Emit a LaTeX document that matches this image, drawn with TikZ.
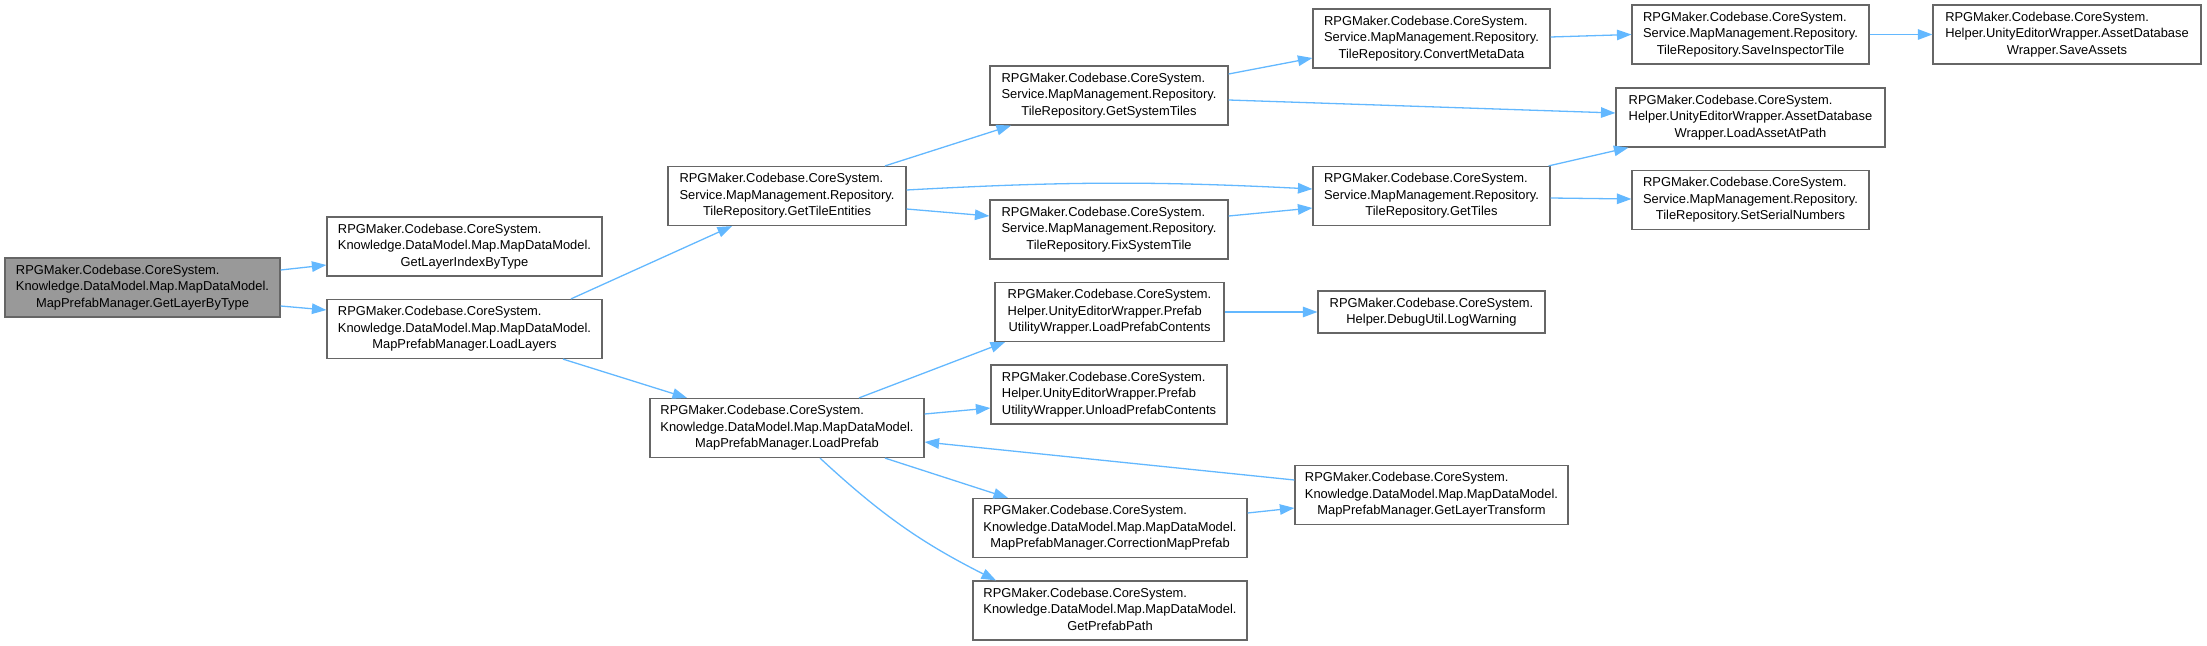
\documentclass[tikz,border=0pt]{standalone}
\usepackage{fontspec}
\setmainfont{Liberation Sans}
\usetikzlibrary{arrows.meta}

\definecolor{edgeblue}{HTML}{63B8FF}
\definecolor{boxline}{HTML}{666666}
\definecolor{rootfill}{HTML}{999999}

\tikzset{
  fn/.style={draw=boxline, fill=white, line width=1.2pt, inner sep=0pt,
    minimum height=59pt, font=\fontsize{12.9}{16.3}\selectfont},
  fntwo/.style={fn, minimum height=42pt},
  fnroot/.style={fn, fill=rootfill},
  call/.style={->, draw=edgeblue, line width=1.3pt}
}

% first lines flush left, last line centred
\newcommand{\fnlbl}[2]{\begin{tabular}{@{}l@{}}#1\\\multicolumn{1}{@{}c@{}}{#2}\end{tabular}}
\newcommand{\rpg}{RPGMaker.Codebase.CoreSystem.}

\begin{document}
\begin{tikzpicture}[x=1pt,y=-1pt,>={Triangle[length=14.5pt,width=10.5pt]}]
    \useasboundingbox (0,0) rectangle (2207,645);

    \node[fnroot,minimum width=275pt] (root) at (142.5,287.5)
        {\fnlbl{\rpg\\Knowledge.DataModel.Map.MapDataModel.}{MapPrefabManager.GetLayerByType}};
    \node[fn,minimum width=275pt] (idx) at (464.5,246.5)
        {\fnlbl{\rpg\\Knowledge.DataModel.Map.MapDataModel.}{GetLayerIndexByType}};
    \node[fn,minimum width=275pt] (layers) at (464.5,329)
        {\fnlbl{\rpg\\Knowledge.DataModel.Map.MapDataModel.}{MapPrefabManager.LoadLayers}};

    \node[fn,minimum width=238pt] (entities) at (787,196)
        {\fnlbl{\rpg\\Service.MapManagement.Repository.}{TileRepository.GetTileEntities}};
    \node[fn,minimum width=274pt] (prefab) at (787,428)
        {\fnlbl{\rpg\\Knowledge.DataModel.Map.MapDataModel.}{MapPrefabManager.LoadPrefab}};

    \node[fn,minimum width=238pt] (systiles) at (1109,95.5)
        {\fnlbl{\rpg\\Service.MapManagement.Repository.}{TileRepository.GetSystemTiles}};
    \node[fn,minimum width=238pt] (fixtile) at (1109,229.5)
        {\fnlbl{\rpg\\Service.MapManagement.Repository.}{TileRepository.FixSystemTile}};
    \node[fn,minimum width=229pt] (loadcont) at (1109.5,312)
        {\fnlbl{\rpg\\Helper.UnityEditorWrapper.Prefab}{UtilityWrapper.LoadPrefabContents}};
    \node[fn,minimum width=236pt] (unloadcont) at (1109,394.5)
        {\fnlbl{\rpg\\Helper.UnityEditorWrapper.Prefab}{UtilityWrapper.UnloadPrefabContents}};
    \node[fn,minimum width=274pt] (correct) at (1110,528)
        {\fnlbl{\rpg\\Knowledge.DataModel.Map.MapDataModel.}{MapPrefabManager.CorrectionMapPrefab}};
    \node[fn,minimum width=274pt] (path) at (1110,610.5)
        {\fnlbl{\rpg\\Knowledge.DataModel.Map.MapDataModel.}{GetPrefabPath}};

    \node[fn,minimum width=237pt] (convmeta) at (1431.5,38.5)
        {\fnlbl{\rpg\\Service.MapManagement.Repository.}{TileRepository.ConvertMetaData}};
    \node[fn,minimum width=237pt] (gettiles) at (1431.5,196)
        {\fnlbl{\rpg\\Service.MapManagement.Repository.}{TileRepository.GetTiles}};
    \node[fntwo,minimum width=227pt] (logwarn) at (1431.5,312)
        {\fnlbl{\rpg}{Helper.DebugUtil.LogWarning}};
    \node[fn,minimum width=273pt] (layertr) at (1431.5,495)
        {\fnlbl{\rpg\\Knowledge.DataModel.Map.MapDataModel.}{MapPrefabManager.GetLayerTransform}};

    \node[fn,minimum width=237pt] (saveinsp) at (1750.5,34.5)
        {\fnlbl{\rpg\\Service.MapManagement.Repository.}{TileRepository.SaveInspectorTile}};
    \node[fn,minimum width=269pt] (loadasset) at (1750.5,117.5)
        {\fnlbl{\rpg\\Helper.UnityEditorWrapper.AssetDatabase}{Wrapper.LoadAssetAtPath}};
    \node[fn,minimum width=237pt] (serial) at (1750.5,200)
        {\fnlbl{\rpg\\Service.MapManagement.Repository.}{TileRepository.SetSerialNumbers}};

    \node[fn,minimum width=268pt] (saveassets) at (2067,34.5)
        {\fnlbl{\rpg\\Helper.UnityEditorWrapper.AssetDatabase}{Wrapper.SaveAssets}};

    % calls
    \draw[call] ([yshift=17.5pt]root.east) -- ([yshift=-18.5pt]idx.west);
    \draw[call] ([yshift=-18.5pt]root.east) -- ([yshift=19pt]layers.west);
    \draw[call] ([xshift=106.5pt]layers.north) -- ([xshift=-55pt]entities.south);
    \draw[call] ([xshift=98.5pt]layers.south) -- ([xshift=-100pt]prefab.north);

    \draw[call] ([xshift=98pt]entities.north) -- ([xshift=-98pt]systiles.south);
    \draw[call] ([yshift=6pt]entities.east) to[bend left=3] ([yshift=7pt]gettiles.west);
    \draw[call] ([yshift=-13pt]entities.east) -- ([yshift=13.5pt]fixtile.west);

    \draw[call] ([yshift=21.5pt]systiles.east) -- ([yshift=-19.5pt]convmeta.west);
    \draw[call] ([yshift=-4.5pt]systiles.east) -- ([yshift=4.5pt]loadasset.west);
    \draw[call] ([yshift=13.5pt]fixtile.east) -- ([yshift=-12pt]gettiles.west);

    \draw[call] ([yshift=1.5pt]convmeta.east) -- (saveinsp.west);
    \draw[call] (saveinsp.east) -- (saveassets.west);
    \draw[call] ([xshift=-2pt]gettiles.north east) -- ([xshift=13pt]loadasset.south west);
    \draw[call] ([yshift=-2pt]gettiles.east) -- ([yshift=1pt]serial.west);

    \draw[call] ([xshift=72pt]prefab.north) -- ([xshift=-104.5pt]loadcont.south);
    \draw[call] (loadcont.east) -- (logwarn.west);
    \draw[call] ([yshift=14pt]prefab.east) -- ([yshift=-13.5pt]unloadcont.west);
    \draw[call] ([xshift=98pt]prefab.south) -- ([xshift=-102pt]correct.north);
    \draw[call] ([xshift=33pt]prefab.south) to[bend right=8] ([xshift=-114pt]path.north);
    \draw[call] ([yshift=15pt]correct.east) -- ([yshift=-13pt]layertr.west);
    \draw[call] ([yshift=15pt]layertr.west) -- ([yshift=-14pt]prefab.east);
\end{tikzpicture}
\end{document}
